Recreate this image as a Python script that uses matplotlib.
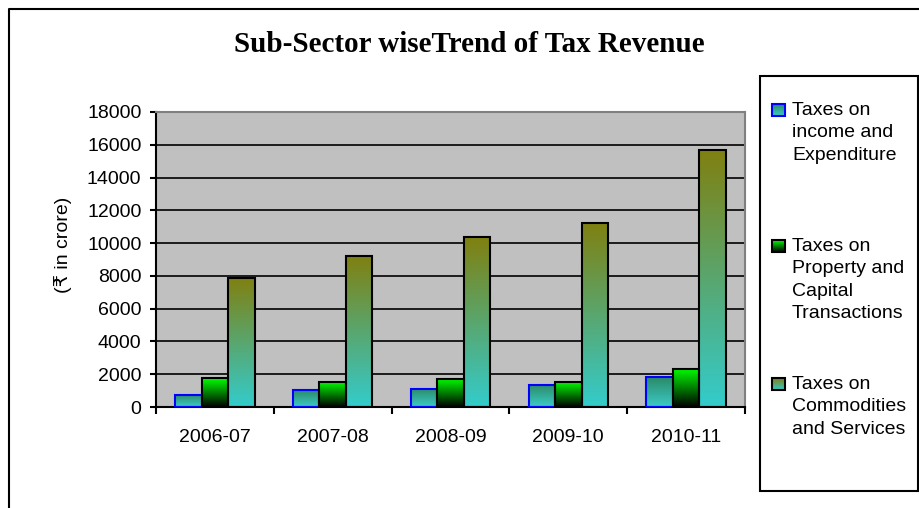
import numpy as np
import matplotlib.pyplot as plt
from matplotlib.colors import to_rgb
from matplotlib.patches import Rectangle
from matplotlib.lines import Line2D

plt.rcParams['font.family'] = ['Liberation Sans', 'DejaVu Sans']

# Tax revenue by sub-sector (Rs. in crore)
years = ['2006-07', '2007-08', '2008-09', '2009-10', '2010-11']
income_exp = [750, 1010, 1100, 1360, 1830]
property_cap = [1750, 1550, 1710, 1550, 2320]
commodities = [7900, 9230, 10350, 11230, 15700]

series_labels = ['Taxes on\nincome and\nExpenditure',
                 'Taxes on\nProperty and\nCapital\nTransactions',
                 'Taxes on\nCommodities\nand Services']

# (top colour, bottom colour, edge colour) for each series
styles = [('#2A8A66', '#3CCBC8', '#0000FF'),
          ('#00FF00', '#000000', '#000000'),
          ('#808010', '#33CCCC', '#000000')]


def gradient_image(top, bottom, n=128):
    t = np.linspace(0, 1, n)[:, None]
    c0, c1 = np.array(to_rgb(top)), np.array(to_rgb(bottom))
    return (c0 * (1 - t) + c1 * t)[:, None, :]


def gradient_bars(ax, bars, top, bottom):
    img = gradient_image(top, bottom)
    for bar in bars:
        x0, y0 = bar.get_x(), bar.get_y()
        im = ax.imshow(img, extent=[x0, x0 + bar.get_width(), y0, y0 + bar.get_height()],
                       aspect='auto', origin='upper', zorder=2.5, interpolation='bilinear')
        im.set_clip_path(bar)


W, H = 919, 508
fig = plt.figure(figsize=(W / 100, H / 100), dpi=100)

ax = fig.add_axes([156 / W, (H - 407) / H, 589 / W, 295 / H])
ax.set_facecolor('#C0C0C0')

x = np.arange(len(years))
width = 0.225
for i, (vals, (top, bottom, edge)) in enumerate(zip([income_exp, property_cap, commodities], styles)):
    bars = ax.bar(x + (i - 1) * width, vals, width, facecolor='none',
                  edgecolor=edge, linewidth=1.5, zorder=3)
    gradient_bars(ax, bars, top, bottom)

ax.set_xlim(-0.5, len(years) - 0.5)
ax.set_ylim(0, 18000)
ax.set_yticks(np.arange(0, 18001, 2000))
ax.yaxis.grid(True, color='black', linewidth=1.2)
ax.set_axisbelow(True)

ax.set_xticks(x)
ax.set_xticklabels(years)
ax.set_xticks(np.arange(-0.5, len(years), 1), minor=True)
ax.tick_params(axis='x', which='major', length=0, pad=16, labelsize=14)
ax.tick_params(axis='x', which='minor', length=5, width=1.5, color='black')
ax.tick_params(axis='y', length=4.5, width=1.5, pad=6, labelsize=14)

for side in ['left', 'bottom']:
    ax.spines[side].set_color('black')
    ax.spines[side].set_linewidth(1.5)
for side in ['top', 'right']:
    ax.spines[side].set_color('#808080')
    ax.spines[side].set_linewidth(1.5)

ax.set_ylabel('(₹ in crore)', fontsize=14)
ax.yaxis.set_label_coords(-0.143, 0.55)

fig.text(469 / W, 1 - 45 / H, 'Sub-Sector wiseTrend of Tax Revenue',
         family='Liberation Serif', fontweight='bold', fontsize=21,
         ha='center', va='center')

# legend panel, laid out in pixel units
lx0, ly0, lx1, ly1 = 760, 76, 918, 491
lax = fig.add_axes([lx0 / W, (H - ly1) / H, (lx1 - lx0) / W, (ly1 - ly0) / H])
lax.set_xlim(0, lx1 - lx0)
lax.set_ylim(ly1 - ly0, 0)
lax.axis('off')
lax.add_patch(Rectangle((0, 0), lx1 - lx0, ly1 - ly0, facecolor='white',
                        edgecolor='black', linewidth=1.5, clip_on=False))
for label, (top, bottom, edge), yc in zip(series_labels, styles, [34, 170, 308]):
    sq = Rectangle((12, yc - 6), 13, 12, facecolor='none', edgecolor=edge, linewidth=1.5, zorder=3)
    lax.add_patch(sq)
    im = lax.imshow(gradient_image(top, bottom), extent=[12, 25, yc + 6, yc - 6],
                    aspect='auto', origin='upper', zorder=2)
    im.set_clip_path(sq)
    lax.text(32, yc - 8, label, fontsize=14, va='top', ha='left', linespacing=1.42)
lax.set_xlim(0, lx1 - lx0)
lax.set_ylim(ly1 - ly0, 0)

# outer chart border
fig.add_artist(Line2D([8.5 / W, 8.5 / W, 1], [0, 1 - 9 / H, 1 - 9 / H],
                      transform=fig.transFigure, color='black', linewidth=1.5))

fig.savefig('out.png', dpi=100)
